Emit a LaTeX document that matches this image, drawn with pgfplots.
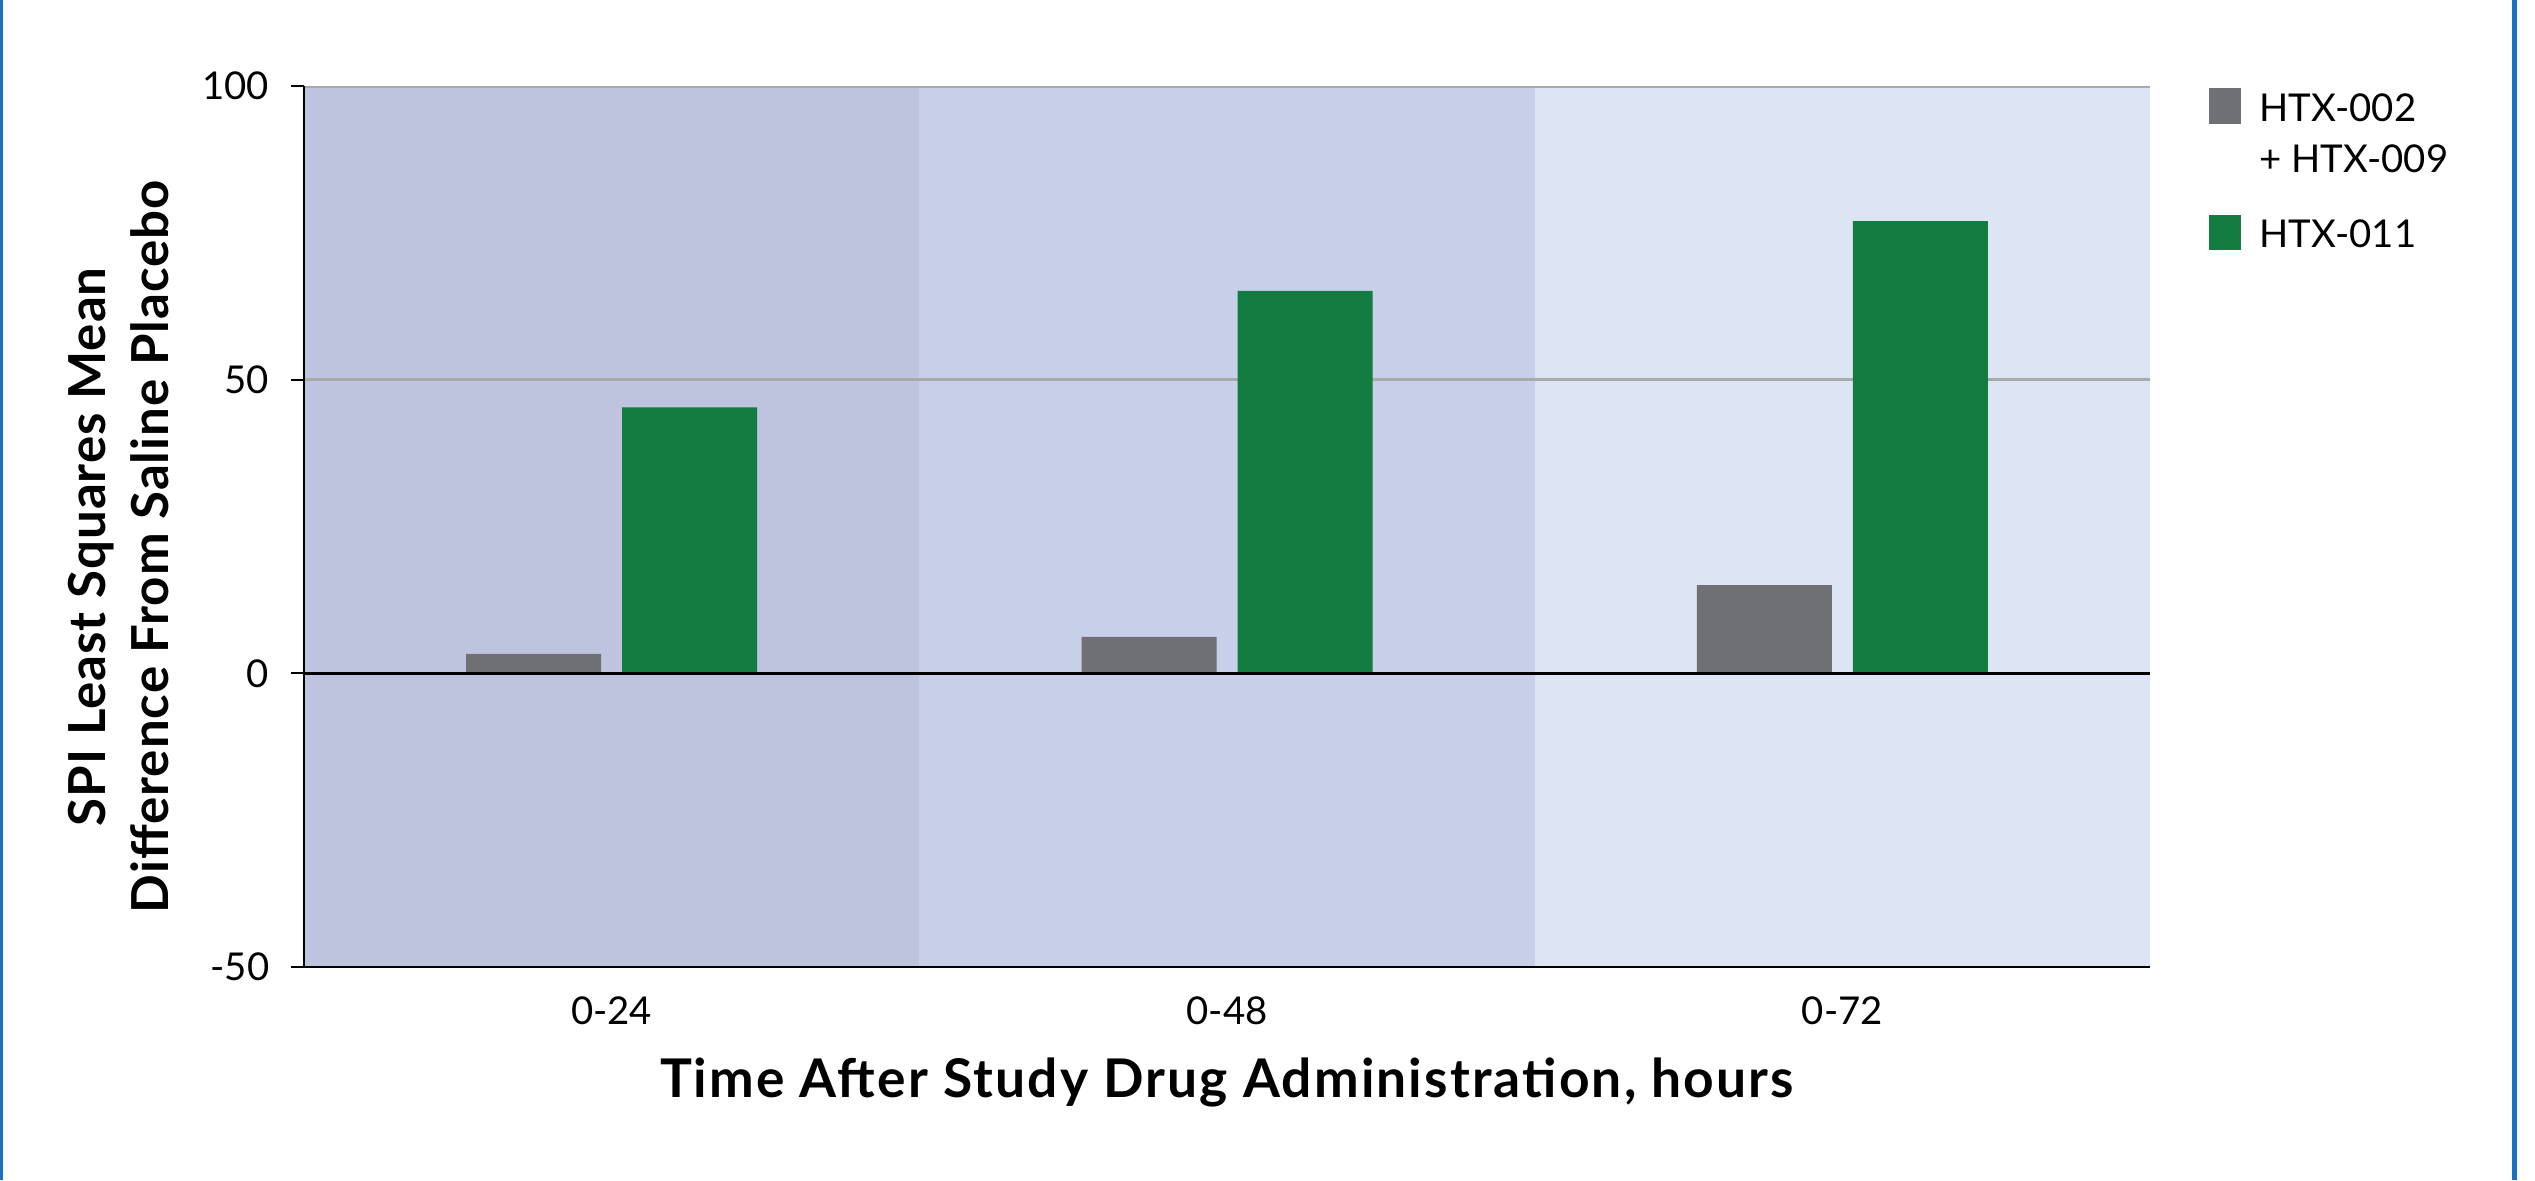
\documentclass[border=0pt]{standalone}
\usepackage{fontspec}
\setmainfont{Lato}
\newfontfamily\xlabfont{Lato}[LetterSpace=4.0]
\newfontfamily\ylabfont{Lato}[LetterSpace=2.0]
\usepackage{pgfplots}
\pgfplotsset{compat=1.18}
\definecolor{band1}{RGB}{190,195,222}
\definecolor{band2}{RGB}{199,207,233}
\definecolor{band3}{RGB}{221,228,243}
\definecolor{bargray}{RGB}{111,112,116}
\definecolor{bargreen}{RGB}{19,124,64}
\definecolor{gridgray}{RGB}{168,169,173}
\definecolor{frameblue}{RGB}{22,115,195}
\begin{document}
\begin{tikzpicture}
\useasboundingbox (0,0) rectangle (760.5pt,354pt);
\fill[white] (0,0) rectangle (760.5pt,354pt);
\fill[frameblue] (0,0) rectangle (0.8pt,354pt);
\fill[frameblue] (753.6pt,0) rectangle (755.1pt,354pt);
\begin{axis}[
  axis on top,
  at={(91.2pt,63.9pt)}, anchor=south west,
  scale only axis, width=553.8pt, height=264.3pt,
  xmin=-0.5, xmax=2.5, ymin=-50, ymax=100,
  xtick={0,1,2}, xticklabels={0-24,0-48,0-72},
  ytick={-50,0,50,100},
  axis x line*=bottom, axis y line*=left,
  axis line style={line width=0.7pt, black},
  x axis line style={-}, y axis line style={-},
  xtick style={draw=none},
  ytick style={line width=0.6pt, black},
  tick align=outside, major tick length=3.9pt,
  ybar, bar width=40.5pt,
  /pgf/number format/assume math mode=true,
  ticklabel style={font=\fontsize{11.5}{13}\selectfont},
  xticklabel style={yshift=-1.4pt},
  yticklabel style={xshift=-3pt},
  xlabel={Time After Study Drug Administration, hours},
  xlabel style={font=\xlabfont\bfseries\fontsize{16}{18}\selectfont, yshift=-3pt},
  ylabel={SPI Least Squares Mean\\Difference From Saline Placebo},
  every axis y label/.style={at={([xshift=-37pt]axis description cs:0,0.477)}, rotate=90, anchor=south, align=center, font=\ylabfont\bfseries\fontsize{15.3}{18.9}\selectfont},
  legend style={at={(axis description cs:1,1)}, anchor=north west, xshift=17.4pt, yshift=2.4pt, draw=none, fill=none, inner sep=0pt,
    font=\fontsize{11.5}{15.3}\selectfont, row sep=24.2pt, column sep=3.6pt, cells={anchor=base west}},
  legend image code/.code={\fill[#1] (0pt,-0.8pt) rectangle (9.6pt,9.9pt);},
]
\fill[band1] (axis cs:-0.5,-50) rectangle (axis cs:0.5,100);
\fill[band2] (axis cs:0.5,-50) rectangle (axis cs:1.5,100);
\fill[band3] (axis cs:1.5,-50) rectangle (axis cs:2.5,100);
\draw[gridgray, line width=0.9pt] (axis cs:-0.5,50) -- (axis cs:2.5,50);
\draw[gridgray, line width=0.9pt] (axis cs:-0.5,100) -- (axis cs:2.5,100);
\addplot[fill=bargray, draw=none, bar shift=-23.4pt] coordinates {(0,3.3) (1,6.2) (2,15.0)};
\addlegendentry{\begin{tabular}[t]{@{}l@{}}HTX-002\\+ HTX-009\end{tabular}}
\addplot[fill=bargreen, draw=none, bar shift=23.4pt] coordinates {(0,45.3) (1,65.1) (2,77.0)};
\addlegendentry{HTX-011}
\draw[black, line width=0.8pt] (axis cs:-0.5,0) -- (axis cs:2.5,0);
\end{axis}
\end{tikzpicture}
\end{document}
